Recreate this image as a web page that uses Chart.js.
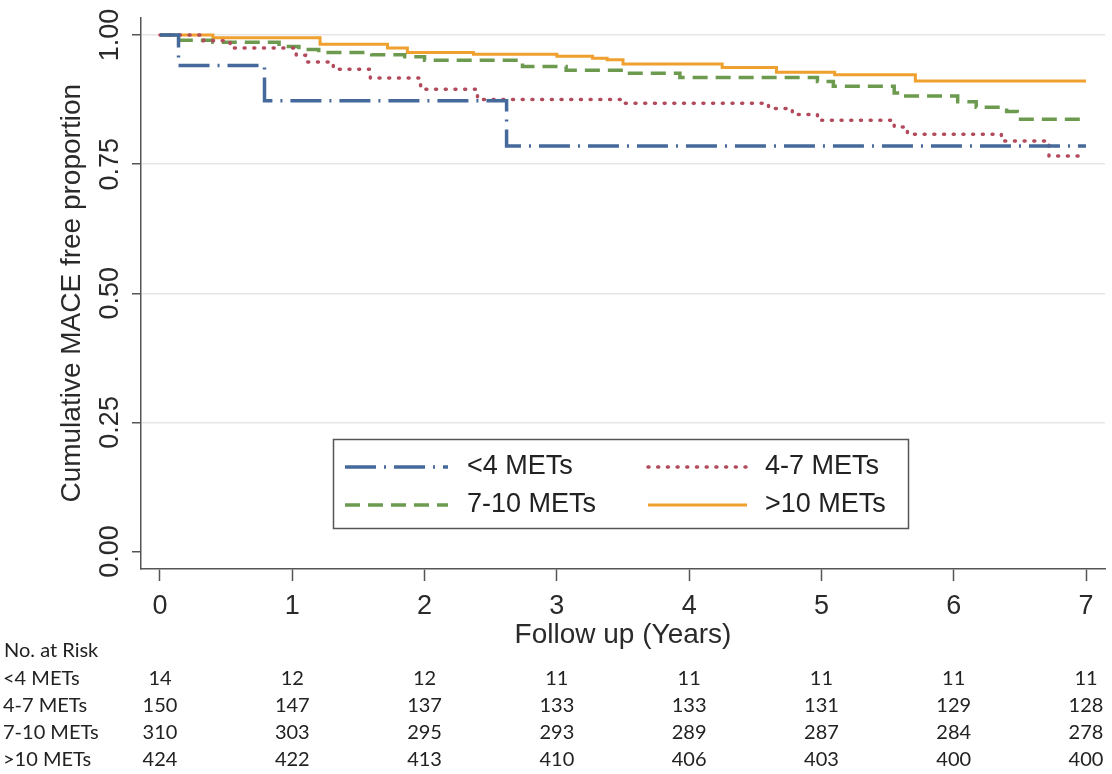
<!DOCTYPE html>
<html><head><meta charset="utf-8">
<script src="https://cdn.jsdelivr.net/npm/chart.js@4.4.1/dist/chart.umd.min.js"></script>
<style>html,body{margin:0;padding:0;background:#fff;} canvas{display:block;}</style>
</head><body>
<canvas id="c" width="1112" height="774"></canvas>
<script>
// ---- data ----
const groupNames = ['<4 METs', '4-7 METs', '7-10 METs', '>10 METs'];
const yTickValues = [0, 0.25, 0.5, 0.75, 1];
const yTickLabels = ['0.00', '0.25', '0.50', '0.75', '1.00'];
const xTickValues = [0, 1, 2, 3, 4, 5, 6, 7];

const lt4Time  = [0, 0.14, 0.79, 2.62, 7];
const lt4Surv  = [1, 0.941, 0.873, 0.785, 0.785];

const m47Time  = [0, 0.33, 0.53, 1.03, 1.10, 1.31, 1.59, 1.97, 2.40, 3.48, 4.60, 4.78, 4.97, 5.55, 5.65, 6.36, 6.72, 7];
const m47Surv  = [1, 0.989, 0.975, 0.961, 0.948, 0.934, 0.917, 0.895, 0.875, 0.868, 0.858, 0.846, 0.835, 0.822, 0.808, 0.795, 0.766, 0.766];

const m710Time = [0, 0.12, 0.40, 0.90, 1.05, 1.20, 1.60, 1.85, 2.00, 2.74, 3.07, 3.50, 3.93, 4.97, 5.09, 5.55, 5.62, 6.03, 6.17, 6.40, 6.48, 7];
const m710Surv = [1, 0.990, 0.986, 0.978, 0.972, 0.966, 0.962, 0.958, 0.951, 0.939, 0.932, 0.926, 0.918, 0.910, 0.901, 0.888, 0.882, 0.871, 0.860, 0.852, 0.837, 0.837];

const gt10Time = [0, 0.40, 1.21, 1.72, 1.87, 2.37, 3.00, 3.27, 3.38, 3.50, 4.25, 4.66, 5.10, 5.71, 7];
const gt10Surv = [1, 0.995, 0.982, 0.975, 0.966, 0.963, 0.959, 0.955, 0.952, 0.944, 0.937, 0.928, 0.923, 0.911, 0.911];

const riskLt4  = [14, 12, 12, 11, 11, 11, 11, 11];
const risk47   = [150, 147, 137, 133, 133, 131, 129, 128];
const risk710  = [310, 303, 295, 293, 289, 287, 284, 278];
const riskGt10 = [424, 422, 413, 410, 406, 403, 400, 400];

// ---- build ----
const pts = (t, s) => t.map((x, i) => ({x: x, y: s[i]}));
const FONT = '"Liberation Sans", Arial, sans-serif';
const TABLE_FONT = 'Lato, "Open Sans", sans-serif';

const datasets = [
  {label: groupNames[0], data: pts(lt4Time, lt4Surv), borderColor: '#44699a', borderWidth: 3.5, borderDash: [31, 8, 2, 8]},
  {label: groupNames[1], data: pts(m47Time, m47Surv), borderColor: '#b24a5c', borderWidth: 3.5, borderDash: [1, 8.7], borderCapStyle: 'round'},
  {label: groupNames[2], data: pts(m710Time, m710Surv), borderColor: '#6c9a4e', borderWidth: 3.5, borderDash: [15, 8]},
  {label: groupNames[3], data: pts(gt10Time, gt10Surv), borderColor: '#f0a02e', borderWidth: 3}
].map(d => Object.assign({stepped: 'before', pointRadius: 0, fill: false, tension: 0, borderCapStyle: d.borderCapStyle || 'butt'}, d));

const riskRows = [riskLt4, risk47, risk710, riskGt10];

const extras = {
  id: 'extras',
  afterDraw(chart) {
    const ctx = chart.ctx, xs = chart.scales.x, ys = chart.scales.y;
    ctx.save();
    // y tick labels (rotated)
    ctx.fillStyle = '#2a2a2a';
    ctx.font = '27px ' + FONT;
    ctx.textAlign = 'center'; ctx.textBaseline = 'middle';
    yTickValues.forEach((v, i) => {
      const y = ys.getPixelForValue(v);
      ctx.save(); ctx.translate(111, y); ctx.rotate(-Math.PI / 2);
      ctx.fillText(yTickLabels[i], 0, 0); ctx.restore();
    });
    // y title
    ctx.save();
    ctx.font = '28px ' + FONT;
    ctx.translate(72, (ys.getPixelForValue(0) + ys.getPixelForValue(1)) / 2);
    ctx.rotate(-Math.PI / 2);
    ctx.fillText('Cumulative MACE free proportion', 0, 0);
    ctx.restore();

    // legend box
    const bx = 333.5, by = 439.5, bw = 575, bh = 89;
    ctx.fillStyle = '#fff'; ctx.fillRect(bx, by, bw, bh);
    ctx.strokeStyle = '#555'; ctx.lineWidth = 1.5; ctx.strokeRect(bx, by, bw, bh);
    const cols = [{x0: 345, x1: 448, tx: 467}, {x0: 648, x1: 747, tx: 765}];
    const rows = [467, 505];
    ctx.font = '27px ' + FONT;
    ctx.textAlign = 'left'; ctx.textBaseline = 'middle';
    datasets.forEach((d, i) => {
      const c = cols[i % 2], ry = rows[Math.floor(i / 2)];
      ctx.save();
      ctx.strokeStyle = d.borderColor; ctx.lineWidth = d.borderWidth;
      ctx.setLineDash(d.borderDash || []); ctx.lineCap = d.borderCapStyle;
      ctx.beginPath(); ctx.moveTo(c.x0, ry); ctx.lineTo(c.x1, ry); ctx.stroke();
      ctx.restore();
      ctx.fillStyle = '#222';
      ctx.fillText(d.label, c.tx, ry);
    });

    // risk table
    ctx.font = '20px ' + TABLE_FONT;
    ctx.fillStyle = '#222';
    ctx.textAlign = 'left';
    ctx.fillText('No. at Risk', 4, 651);
    const rowY = [679, 706, 733, 760];
    riskRows.forEach((row, r) => {
      ctx.textAlign = 'left';
      ctx.fillText(groupNames[r], 3, rowY[r]);
      ctx.textAlign = 'center';
      row.forEach((n, k) => ctx.fillText(String(n), xs.getPixelForValue(xTickValues[k]), rowY[r]));
    });
    ctx.restore();
  }
};

new Chart(document.getElementById('c'), {
  type: 'line',
  data: {datasets},
  options: {
    responsive: false, animation: false, devicePixelRatio: 1,
    layout: {padding: {top: 18, right: 7, bottom: 122, left: 0}},
    plugins: {legend: {display: false}, tooltip: {enabled: false}},
    scales: {
      x: {
        type: 'linear', min: -0.1436, max: 7.1436,
        afterBuildTicks: s => { s.ticks = xTickValues.map(v => ({value: v})); },
        afterFit: s => { s.height = 83; },
        grid: {drawOnChartArea: false, drawTicks: true, tickLength: 12, tickColor: '#555', tickWidth: 1.5},
        border: {display: true, color: '#555', width: 1.5},
        ticks: {font: {family: FONT, size: 27}, color: '#2a2a2a', padding: 9, maxRotation: 0, autoSkip: false},
        title: {display: true, text: 'Follow up (Years)', font: {family: FONT, size: 28}, color: '#2a2a2a', padding: 0}
      },
      y: {
        type: 'linear', min: -0.0339, max: 1.033,
        afterBuildTicks: s => { s.ticks = yTickValues.map(v => ({value: v})); },
        afterFit: s => { s.width = 141; },
        grid: {
          color: c => (c.tick && c.tick.value === 0) ? 'rgba(0,0,0,0)' : '#e6e6e6',
          lineWidth: 1.5, drawTicks: true, tickLength: 9, tickColor: '#555', tickWidth: 1.5
        },
        border: {display: true, color: '#555', width: 1.5},
        ticks: {display: false}
      }
    }
  },
  plugins: [extras]
});
</script>
</body></html>
